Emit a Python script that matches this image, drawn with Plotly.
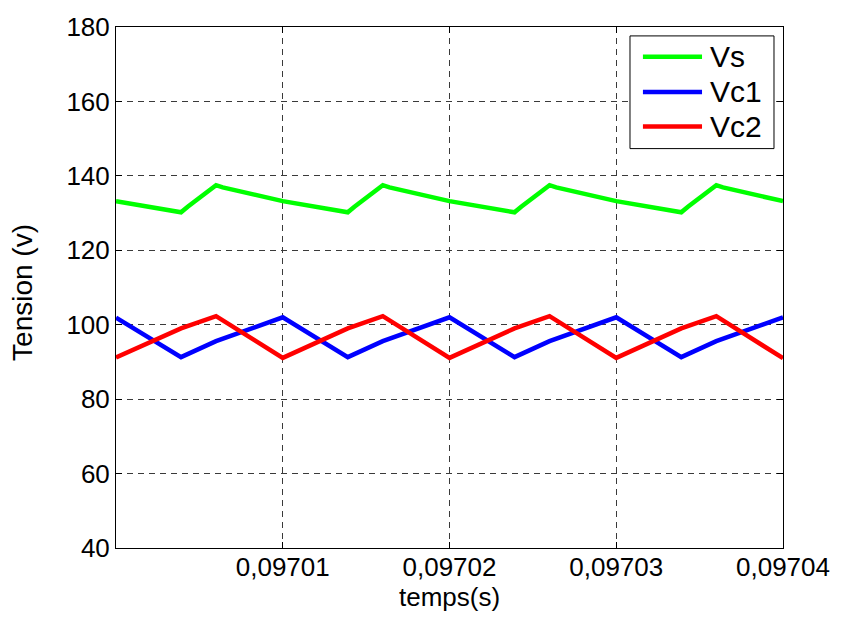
import plotly.graph_objects as go

# Time instants (s) and voltage samples (V)
t_vs = [0.0970000, 0.0970039, 0.0970043, 0.0970060, 0.0970064,
        0.0970100, 0.0970139, 0.0970143, 0.0970160, 0.0970164,
        0.0970200, 0.0970239, 0.0970243, 0.0970260, 0.0970264,
        0.0970300, 0.0970339, 0.0970343, 0.0970360, 0.0970364,
        0.0970400]
vs = [133.2, 130.2, 131.7, 137.5, 136.9,
      133.2, 130.2, 131.7, 137.5, 136.9,
      133.2, 130.2, 131.7, 137.5, 136.9,
      133.2, 130.2, 131.7, 137.5, 136.9,
      133.2]

t_vc = [0.0970000, 0.0970039, 0.0970060,
        0.0970100, 0.0970139, 0.0970160,
        0.0970200, 0.0970239, 0.0970260,
        0.0970300, 0.0970339, 0.0970360,
        0.0970400]
vc1 = [101.9, 91.3, 95.6,
       102.0, 91.3, 95.6,
       102.0, 91.3, 95.6,
       102.0, 91.3, 95.6,
       102.0]
vc2 = [91.2, 99.0, 102.3,
       91.1, 99.0, 102.3,
       91.1, 99.0, 102.3,
       91.1, 99.0, 102.3,
       91.0]

x_ticks = [0.09701, 0.09702, 0.09703, 0.09704]
y_ticks = [40, 60, 80, 100, 120, 140, 160, 180]

names = ["Vs", "Vc1", "Vc2"]
colors = ["#00ff00", "#0000ff", "#ff0000"]

FONT = "Liberation Sans, Arial, sans-serif"

fig = go.Figure()
for tt, vv, name, col in zip([t_vs, t_vc, t_vc], [vs, vc1, vc2], names, colors):
    fig.add_trace(go.Scatter(x=tt, y=vv, mode="lines", name=name,
                             line=dict(color=col, width=4.5),
                             showlegend=False))

axis_common = dict(
    showline=True, linecolor="black", linewidth=1, mirror="ticks",
    ticks="inside", ticklen=6, tickcolor="black",
    showgrid=True, gridcolor="#3a3a3a", gridwidth=1, griddash="6px,5px",
    zeroline=False,
    tickfont=dict(family=FONT, size=26, color="black"),
)

fig.update_xaxes(range=[0.09700, 0.09704], tickvals=x_ticks,
                 tickformat=".5f", ticklabelstandoff=-4, **axis_common)
fig.update_yaxes(range=[40, 180], tickvals=y_ticks, **axis_common)

# Boxed legend in the upper-right corner
box = dict(x0=0.7706, x1=0.9865, y0=0.7666, y1=0.9829)
fig.add_shape(type="rect", xref="paper", yref="paper",
              fillcolor="white", line=dict(color="black", width=1), **box)
rows = [0.9431, 0.8753, 0.8089]
for name, col, ry in zip(names, colors, rows):
    fig.add_shape(type="line", xref="paper", yref="paper",
                  x0=0.790, x1=0.8786, y0=ry, y1=ry,
                  line=dict(color=col, width=4.5))
    fig.add_annotation(text=name, xref="paper", yref="paper",
                       x=0.887, y=ry, xanchor="left", yanchor="middle",
                       showarrow=False,
                       font=dict(family=FONT, size=30, color="black"))

# Axis titles
fig.add_annotation(text="temps(s)", xref="paper", yref="paper",
                   x=0.4993, y=-0.0935, xanchor="center", yanchor="middle",
                   showarrow=False, font=dict(family=FONT, size=26, color="black"))
fig.add_annotation(text="Tension (v)", xref="paper", yref="paper",
                   x=-0.1394, y=0.4896, xanchor="center", yanchor="middle",
                   textangle=-90, showarrow=False,
                   font=dict(family=FONT, size=28, color="black"))

fig.update_layout(
    width=844, height=623,
    margin=dict(l=116, r=61, t=21, b=75),
    paper_bgcolor="white", plot_bgcolor="white",
    separators=",.",
    font=dict(family=FONT, color="black"),
)

fig.write_html("out.html")
